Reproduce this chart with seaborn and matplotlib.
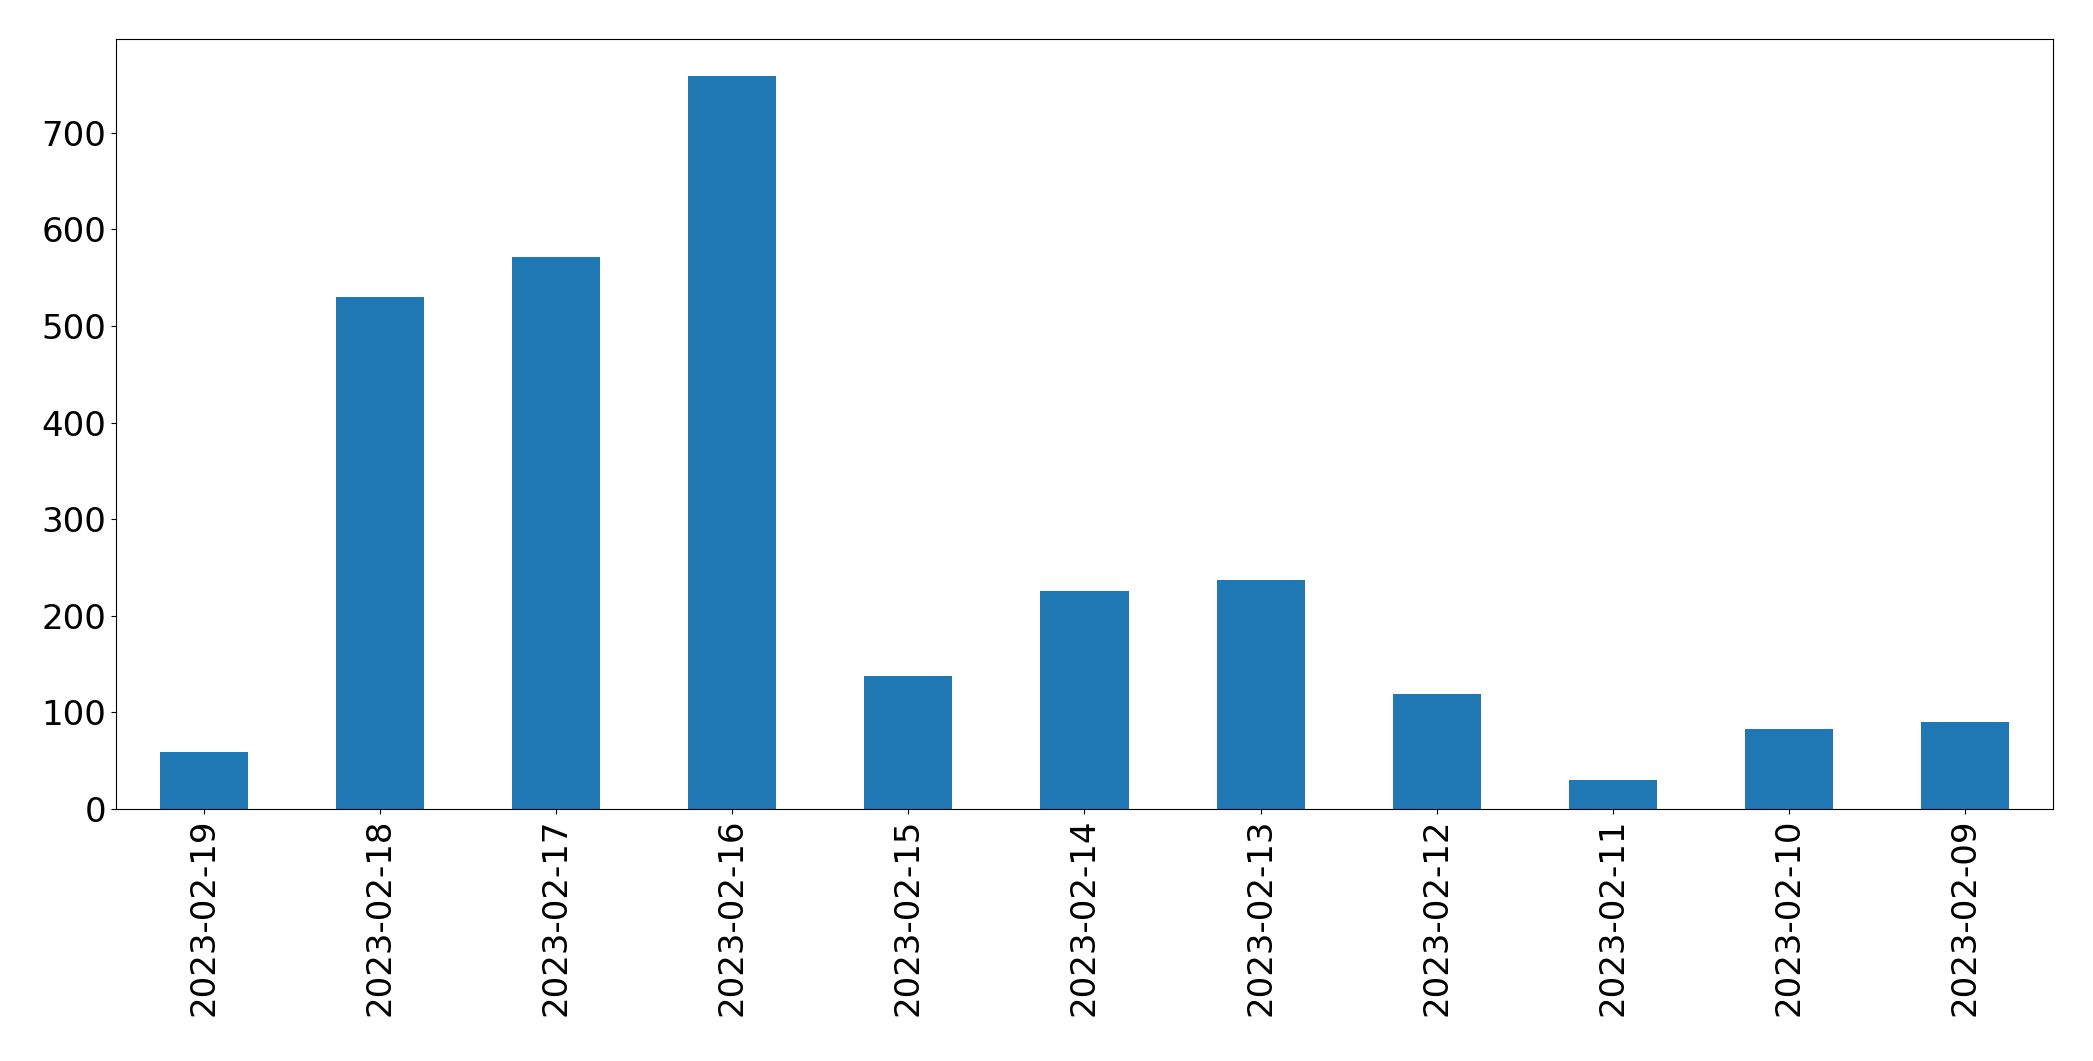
import matplotlib
matplotlib.use("Agg")
import matplotlib.pyplot as plt
import seaborn as sns
import pandas as pd

dates = ["2023-02-19", "2023-02-18", "2023-02-17", "2023-02-16", "2023-02-15",
         "2023-02-14", "2023-02-13", "2023-02-12", "2023-02-11", "2023-02-10",
         "2023-02-09"]
counts = [59, 530, 571, 759, 138, 226, 237, 119, 30, 83, 90]

df = pd.DataFrame({"date": dates, "count": counts})

plt.rcParams["font.family"] = ["DejaVu Sans"]
fig = plt.figure(figsize=(20.93, 10.61), dpi=100)
ax = fig.add_axes([0.0554, 0.2375, 0.9255, 0.7257])

sns.barplot(data=df, x="date", y="count", order=dates, color="#1f77b4",
            saturation=1, width=0.5, ax=ax)

ax.set_xlim(-0.5, len(dates) - 0.5)
ax.set_ylim(0, max(counts) * 1.05)
ax.set_xlabel("")
ax.set_ylabel("")
ax.tick_params(axis="both", labelsize=24.5)
ax.tick_params(axis="x", labelrotation=90)
for s in ax.spines.values():
    s.set_visible(True)
    s.set_color("black")

fig.savefig("out.png", dpi=100)
